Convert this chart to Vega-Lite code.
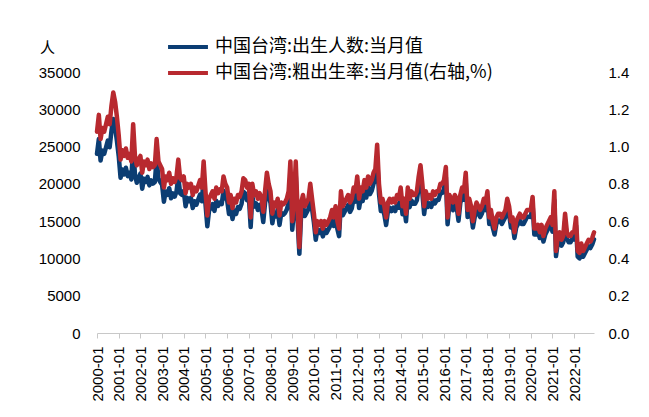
{
"$schema": "https://vega.github.io/schema/vega-lite/v6.json",
"width": 497, "height": 261,
"autosize": {"type": "none"},
"padding": {"left": 97, "top": 72, "right": 55, "bottom": 84},
"background": "white",
"config": {"view": {"stroke": null}, "font": "Liberation Sans", "axis": {"grid": false}},
"data": {"values": [
{"d":"2000-01","b":24020,"r":1.08},{"d":"2000-02","b":26020,"r":1.17},{"d":"2000-03","b":23130,"r":1.04},{"d":"2000-04","b":24460,"r":1.10},{"d":"2000-05","b":24020,"r":1.08},{"d":"2000-06","b":24910,"r":1.12},{"d":"2000-07","b":25800,"r":1.16},{"d":"2000-08","b":24910,"r":1.12},{"d":"2000-09","b":27130,"r":1.22},{"d":"2000-10","b":28690,"r":1.29},{"d":"2000-11","b":27580,"r":1.24},{"d":"2000-12","b":25800,"r":1.16},
{"d":"2001-01","b":23720,"r":1.06},{"d":"2001-02","b":20810,"r":0.93},{"d":"2001-03","b":21930,"r":0.98},{"d":"2001-04","b":21260,"r":0.95},{"d":"2001-05","b":22160,"r":0.99},{"d":"2001-06","b":21040,"r":0.94},{"d":"2001-07","b":21480,"r":0.96},{"d":"2001-08","b":20590,"r":0.92},{"d":"2001-09","b":25070,"r":1.12},{"d":"2001-10","b":21260,"r":0.95},{"d":"2001-11","b":20140,"r":0.90},{"d":"2001-12","b":20810,"r":0.93},
{"d":"2002-01","b":21380,"r":0.95},{"d":"2002-02","b":19350,"r":0.86},{"d":"2002-03","b":20700,"r":0.92},{"d":"2002-04","b":20250,"r":0.90},{"d":"2002-05","b":20930,"r":0.93},{"d":"2002-06","b":19800,"r":0.88},{"d":"2002-07","b":20480,"r":0.91},{"d":"2002-08","b":20030,"r":0.89},{"d":"2002-09","b":20250,"r":0.90},{"d":"2002-10","b":23400,"r":1.04},{"d":"2002-11","b":20700,"r":0.92},{"d":"2002-12","b":20250,"r":0.90},
{"d":"2003-01","b":19870,"r":0.88},{"d":"2003-02","b":17610,"r":0.78},{"d":"2003-03","b":18970,"r":0.84},{"d":"2003-04","b":18520,"r":0.82},{"d":"2003-05","b":19420,"r":0.86},{"d":"2003-06","b":18060,"r":0.80},{"d":"2003-07","b":18740,"r":0.83},{"d":"2003-08","b":18290,"r":0.81},{"d":"2003-09","b":18970,"r":0.84},{"d":"2003-10","b":21000,"r":0.93},{"d":"2003-11","b":18740,"r":0.83},{"d":"2003-12","b":18520,"r":0.82},
{"d":"2004-01","b":19030,"r":0.84},{"d":"2004-02","b":16990,"r":0.75},{"d":"2004-03","b":18120,"r":0.80},{"d":"2004-04","b":17670,"r":0.78},{"d":"2004-05","b":18120,"r":0.80},{"d":"2004-06","b":16760,"r":0.74},{"d":"2004-07","b":17670,"r":0.78},{"d":"2004-08","b":17210,"r":0.76},{"d":"2004-09","b":17890,"r":0.79},{"d":"2004-10","b":18570,"r":0.82},{"d":"2004-11","b":17670,"r":0.78},{"d":"2004-12","b":20840,"r":0.92},
{"d":"2005-01","b":17270,"r":0.76},{"d":"2005-02","b":14320,"r":0.63},{"d":"2005-03","b":16370,"r":0.72},{"d":"2005-04","b":16820,"r":0.74},{"d":"2005-05","b":17270,"r":0.76},{"d":"2005-06","b":16370,"r":0.72},{"d":"2005-07","b":17730,"r":0.78},{"d":"2005-08","b":17050,"r":0.75},{"d":"2005-09","b":17500,"r":0.77},{"d":"2005-10","b":17270,"r":0.76},{"d":"2005-11","b":19090,"r":0.84},{"d":"2005-12","b":18180,"r":0.80},
{"d":"2006-01","b":17800,"r":0.78},{"d":"2006-02","b":15970,"r":0.70},{"d":"2006-03","b":16890,"r":0.74},{"d":"2006-04","b":15290,"r":0.67},{"d":"2006-05","b":16430,"r":0.72},{"d":"2006-06","b":15970,"r":0.70},{"d":"2006-07","b":16890,"r":0.74},{"d":"2006-08","b":16660,"r":0.73},{"d":"2006-09","b":17340,"r":0.76},{"d":"2006-10","b":18940,"r":0.83},{"d":"2006-11","b":18710,"r":0.82},{"d":"2006-12","b":17800,"r":0.78},
{"d":"2007-01","b":18320,"r":0.80},{"d":"2007-02","b":14200,"r":0.62},{"d":"2007-03","b":18320,"r":0.80},{"d":"2007-04","b":16950,"r":0.74},{"d":"2007-05","b":17400,"r":0.76},{"d":"2007-06","b":16490,"r":0.72},{"d":"2007-07","b":17180,"r":0.75},{"d":"2007-08","b":16720,"r":0.73},{"d":"2007-09","b":14890,"r":0.65},{"d":"2007-10","b":17400,"r":0.76},{"d":"2007-11","b":19690,"r":0.86},{"d":"2007-12","b":18320,"r":0.80},
{"d":"2008-01","b":17460,"r":0.76},{"d":"2008-02","b":14710,"r":0.64},{"d":"2008-03","b":16090,"r":0.70},{"d":"2008-04","b":15630,"r":0.68},{"d":"2008-05","b":16550,"r":0.72},{"d":"2008-06","b":14480,"r":0.63},{"d":"2008-07","b":16090,"r":0.70},{"d":"2008-08","b":15860,"r":0.69},{"d":"2008-09","b":16090,"r":0.70},{"d":"2008-10","b":16550,"r":0.72},{"d":"2008-11","b":17460,"r":0.76},{"d":"2008-12","b":21140,"r":0.92},
{"d":"2009-01","b":13850,"r":0.60},{"d":"2009-02","b":16620,"r":0.72},{"d":"2009-03","b":21230,"r":0.92},{"d":"2009-04","b":15230,"r":0.66},{"d":"2009-05","b":10620,"r":0.46},{"d":"2009-06","b":16160,"r":0.70},{"d":"2009-07","b":17080,"r":0.74},{"d":"2009-08","b":15690,"r":0.68},{"d":"2009-09","b":16160,"r":0.70},{"d":"2009-10","b":16620,"r":0.72},{"d":"2009-11","b":18460,"r":0.80},{"d":"2009-12","b":16620,"r":0.72},
{"d":"2010-01","b":14810,"r":0.64},{"d":"2010-02","b":12500,"r":0.54},{"d":"2010-03","b":13880,"r":0.60},{"d":"2010-04","b":13420,"r":0.58},{"d":"2010-05","b":13880,"r":0.60},{"d":"2010-06","b":12960,"r":0.56},{"d":"2010-07","b":13880,"r":0.60},{"d":"2010-08","b":13420,"r":0.58},{"d":"2010-09","b":13880,"r":0.60},{"d":"2010-10","b":14350,"r":0.62},{"d":"2010-11","b":15270,"r":0.66},{"d":"2010-12","b":14350,"r":0.62},
{"d":"2011-01","b":15780,"r":0.68},{"d":"2011-02","b":13920,"r":0.60},{"d":"2011-03","b":12990,"r":0.56},{"d":"2011-04","b":17630,"r":0.76},{"d":"2011-05","b":15780,"r":0.68},{"d":"2011-06","b":16240,"r":0.70},{"d":"2011-07","b":16700,"r":0.72},{"d":"2011-08","b":17170,"r":0.74},{"d":"2011-09","b":16240,"r":0.70},{"d":"2011-10","b":16700,"r":0.72},{"d":"2011-11","b":18100,"r":0.78},{"d":"2011-12","b":17630,"r":0.76},
{"d":"2012-01","b":19560,"r":0.84},{"d":"2012-02","b":16760,"r":0.72},{"d":"2012-03","b":18160,"r":0.78},{"d":"2012-04","b":17690,"r":0.76},{"d":"2012-05","b":19090,"r":0.82},{"d":"2012-06","b":18160,"r":0.78},{"d":"2012-07","b":19560,"r":0.84},{"d":"2012-08","b":18620,"r":0.80},{"d":"2012-09","b":19090,"r":0.82},{"d":"2012-10","b":20020,"r":0.86},{"d":"2012-11","b":20490,"r":0.88},{"d":"2012-12","b":23510,"r":1.01},
{"d":"2013-01","b":18680,"r":0.80},{"d":"2013-02","b":16350,"r":0.70},{"d":"2013-03","b":16810,"r":0.72},{"d":"2013-04","b":15880,"r":0.68},{"d":"2013-05","b":14480,"r":0.62},{"d":"2013-06","b":16350,"r":0.70},{"d":"2013-07","b":16810,"r":0.72},{"d":"2013-08","b":16350,"r":0.70},{"d":"2013-09","b":16810,"r":0.72},{"d":"2013-10","b":16350,"r":0.70},{"d":"2013-11","b":17280,"r":0.74},{"d":"2013-12","b":16810,"r":0.72},
{"d":"2014-01","b":18260,"r":0.78},{"d":"2014-02","b":15920,"r":0.68},{"d":"2014-03","b":16860,"r":0.72},{"d":"2014-04","b":14980,"r":0.64},{"d":"2014-05","b":18260,"r":0.78},{"d":"2014-06","b":16860,"r":0.72},{"d":"2014-07","b":17790,"r":0.76},{"d":"2014-08","b":17320,"r":0.74},{"d":"2014-09","b":17320,"r":0.74},{"d":"2014-10","b":17790,"r":0.76},{"d":"2014-11","b":19660,"r":0.84},{"d":"2014-12","b":21070,"r":0.90},
{"d":"2015-01","b":18780,"r":0.80},{"d":"2015-02","b":15960,"r":0.68},{"d":"2015-03","b":17840,"r":0.76},{"d":"2015-04","b":16900,"r":0.72},{"d":"2015-05","b":17370,"r":0.74},{"d":"2015-06","b":16900,"r":0.72},{"d":"2015-07","b":17840,"r":0.76},{"d":"2015-08","b":17370,"r":0.74},{"d":"2015-09","b":17840,"r":0.76},{"d":"2015-10","b":17840,"r":0.76},{"d":"2015-11","b":18780,"r":0.80},{"d":"2015-12","b":18780,"r":0.80},
{"d":"2016-01","b":19290,"r":0.82},{"d":"2016-02","b":20930,"r":0.89},{"d":"2016-03","b":14580,"r":0.62},{"d":"2016-04","b":17400,"r":0.74},{"d":"2016-05","b":16930,"r":0.72},{"d":"2016-06","b":16460,"r":0.70},{"d":"2016-07","b":17400,"r":0.74},{"d":"2016-08","b":16930,"r":0.72},{"d":"2016-09","b":15050,"r":0.64},{"d":"2016-10","b":17400,"r":0.74},{"d":"2016-11","b":18350,"r":0.78},{"d":"2016-12","b":17880,"r":0.76},
{"d":"2017-01","b":20260,"r":0.86},{"d":"2017-02","b":15550,"r":0.66},{"d":"2017-03","b":16960,"r":0.72},{"d":"2017-04","b":16020,"r":0.68},{"d":"2017-05","b":14140,"r":0.60},{"d":"2017-06","b":15550,"r":0.66},{"d":"2017-07","b":16490,"r":0.70},{"d":"2017-08","b":16020,"r":0.68},{"d":"2017-09","b":15550,"r":0.66},{"d":"2017-10","b":16020,"r":0.68},{"d":"2017-11","b":16960,"r":0.72},{"d":"2017-12","b":16490,"r":0.70},
{"d":"2018-01","b":17920,"r":0.76},{"d":"2018-02","b":14620,"r":0.62},{"d":"2018-03","b":15560,"r":0.66},{"d":"2018-04","b":14150,"r":0.60},{"d":"2018-05","b":13200,"r":0.56},{"d":"2018-06","b":14620,"r":0.62},{"d":"2018-07","b":15090,"r":0.64},{"d":"2018-08","b":15090,"r":0.64},{"d":"2018-09","b":14620,"r":0.62},{"d":"2018-10","b":15090,"r":0.64},{"d":"2018-11","b":15560,"r":0.66},{"d":"2018-12","b":16980,"r":0.72},
{"d":"2019-01","b":16050,"r":0.68},{"d":"2019-02","b":14160,"r":0.60},{"d":"2019-03","b":14630,"r":0.62},{"d":"2019-04","b":12740,"r":0.54},{"d":"2019-05","b":14160,"r":0.60},{"d":"2019-06","b":14630,"r":0.62},{"d":"2019-07","b":15100,"r":0.64},{"d":"2019-08","b":14630,"r":0.62},{"d":"2019-09","b":14630,"r":0.62},{"d":"2019-10","b":15100,"r":0.64},{"d":"2019-11","b":15580,"r":0.66},{"d":"2019-12","b":15580,"r":0.66},
{"d":"2020-01","b":15560,"r":0.66},{"d":"2020-02","b":17210,"r":0.73},{"d":"2020-03","b":13200,"r":0.56},{"d":"2020-04","b":13200,"r":0.56},{"d":"2020-05","b":13670,"r":0.58},{"d":"2020-06","b":12730,"r":0.54},{"d":"2020-07","b":13670,"r":0.58},{"d":"2020-08","b":12260,"r":0.52},{"d":"2020-09","b":13200,"r":0.56},{"d":"2020-10","b":13670,"r":0.58},{"d":"2020-11","b":14140,"r":0.60},{"d":"2020-12","b":14610,"r":0.62},
{"d":"2021-01","b":13590,"r":0.58},{"d":"2021-02","b":17810,"r":0.76},{"d":"2021-03","b":10310,"r":0.44},{"d":"2021-04","b":12180,"r":0.52},{"d":"2021-05","b":12650,"r":0.54},{"d":"2021-06","b":11720,"r":0.50},{"d":"2021-07","b":12180,"r":0.52},{"d":"2021-08","b":15000,"r":0.64},{"d":"2021-09","b":12650,"r":0.54},{"d":"2021-10","b":12180,"r":0.52},{"d":"2021-11","b":12180,"r":0.52},{"d":"2021-12","b":12650,"r":0.54},
{"d":"2022-01","b":12560,"r":0.54},{"d":"2022-02","b":14420,"r":0.62},{"d":"2022-03","b":10230,"r":0.44},{"d":"2022-04","b":10000,"r":0.43},{"d":"2022-05","b":11160,"r":0.48},{"d":"2022-06","b":10230,"r":0.44},{"d":"2022-07","b":10700,"r":0.46},{"d":"2022-08","b":11160,"r":0.48},{"d":"2022-09","b":11630,"r":0.50},{"d":"2022-10","b":11390,"r":0.49},{"d":"2022-11","b":11860,"r":0.51},{"d":"2022-12","b":12560,"r":0.54}
]},
"layer": [
{"mark": {"type": "line", "strokeWidth": 4.5, "strokeJoin": "round", "strokeCap": "round"},
 "encoding": {
  "x": {"field": "d", "type": "temporal", "scale": {"type": "utc", "nice": false},
        "axis": {"title": null, "labelExpr": "utcFormat(datum.value, '%Y-%m')", "tickCount": {"interval": "year", "step": 1},
                 "labelAngle": -90, "labelFont": "Liberation Sans", "labelFontSize": 15, "labelColor": "#000000",
                 "labelFlush": false, "labelOverlap": false, "labelPadding": 8, "tickSize": 5,
                 "domainColor": "#C8C8C8", "tickColor": "#C8C8C8", "domainWidth": 1}},
  "y": {"field": "b", "type": "quantitative", "scale": {"domain": [0, 35000], "nice": false},
        "axis": {"orient": "left", "values": [0,5000,10000,15000,20000,25000,30000,35000], "format": "d",
                 "domain": false, "ticks": false, "tickSize": 0, "labelPadding": 17,
                 "labelFont": "Liberation Sans", "labelFontSize": 15, "labelColor": "#000000",
                 "title": "人", "titleAngle": 0, "titleX": -50, "titleY": -25, "titleAlign": "center", "titleBaseline": "middle",
                 "titleFont": "Noto Sans CJK SC", "titleFontSize": 15, "titleFontWeight": "normal", "titleColor": "#000000"}},
  "color": {"datum": "中国台湾:出生人数:当月值", "type": "nominal",
            "scale": {"domain": ["中国台湾:出生人数:当月值", "中国台湾:粗出生率:当月值(右轴,%)"], "range": ["#0B3D73", "#B8292F"]},
            "legend": {"orient": "none", "legendX": 74, "legendY": -42, "title": null, "direction": "vertical",
                       "symbolType": "M-1.33,0H1.33", "symbolSize": 900, "symbolStrokeWidth": 4,
                       "labelFont": "Noto Sans CJK SC", "labelFontSize": 18, "labelColor": "#000000", "labelOffset": 10,
                       "labelLimit": 600, "rowPadding": 0, "padding": 0}}
 }},
{"mark": {"type": "line", "strokeWidth": 4.5, "strokeJoin": "round", "strokeCap": "round"},
 "encoding": {
  "x": {"field": "d", "type": "temporal"},
  "y": {"field": "r", "type": "quantitative", "scale": {"domain": [0, 1.4], "nice": false},
        "axis": {"orient": "right", "values": [0,0.2,0.4,0.6,0.8,1.0,1.2,1.4], "format": ".1f",
                 "domain": false, "ticks": false, "tickSize": 0, "labelPadding": 14, "title": null,
                 "labelFont": "Liberation Sans", "labelFontSize": 15, "labelColor": "#000000"}},
  "color": {"datum": "中国台湾:粗出生率:当月值(右轴,%)", "type": "nominal"}
 }}
],
"resolve": {"scale": {"y": "independent"}}
}
